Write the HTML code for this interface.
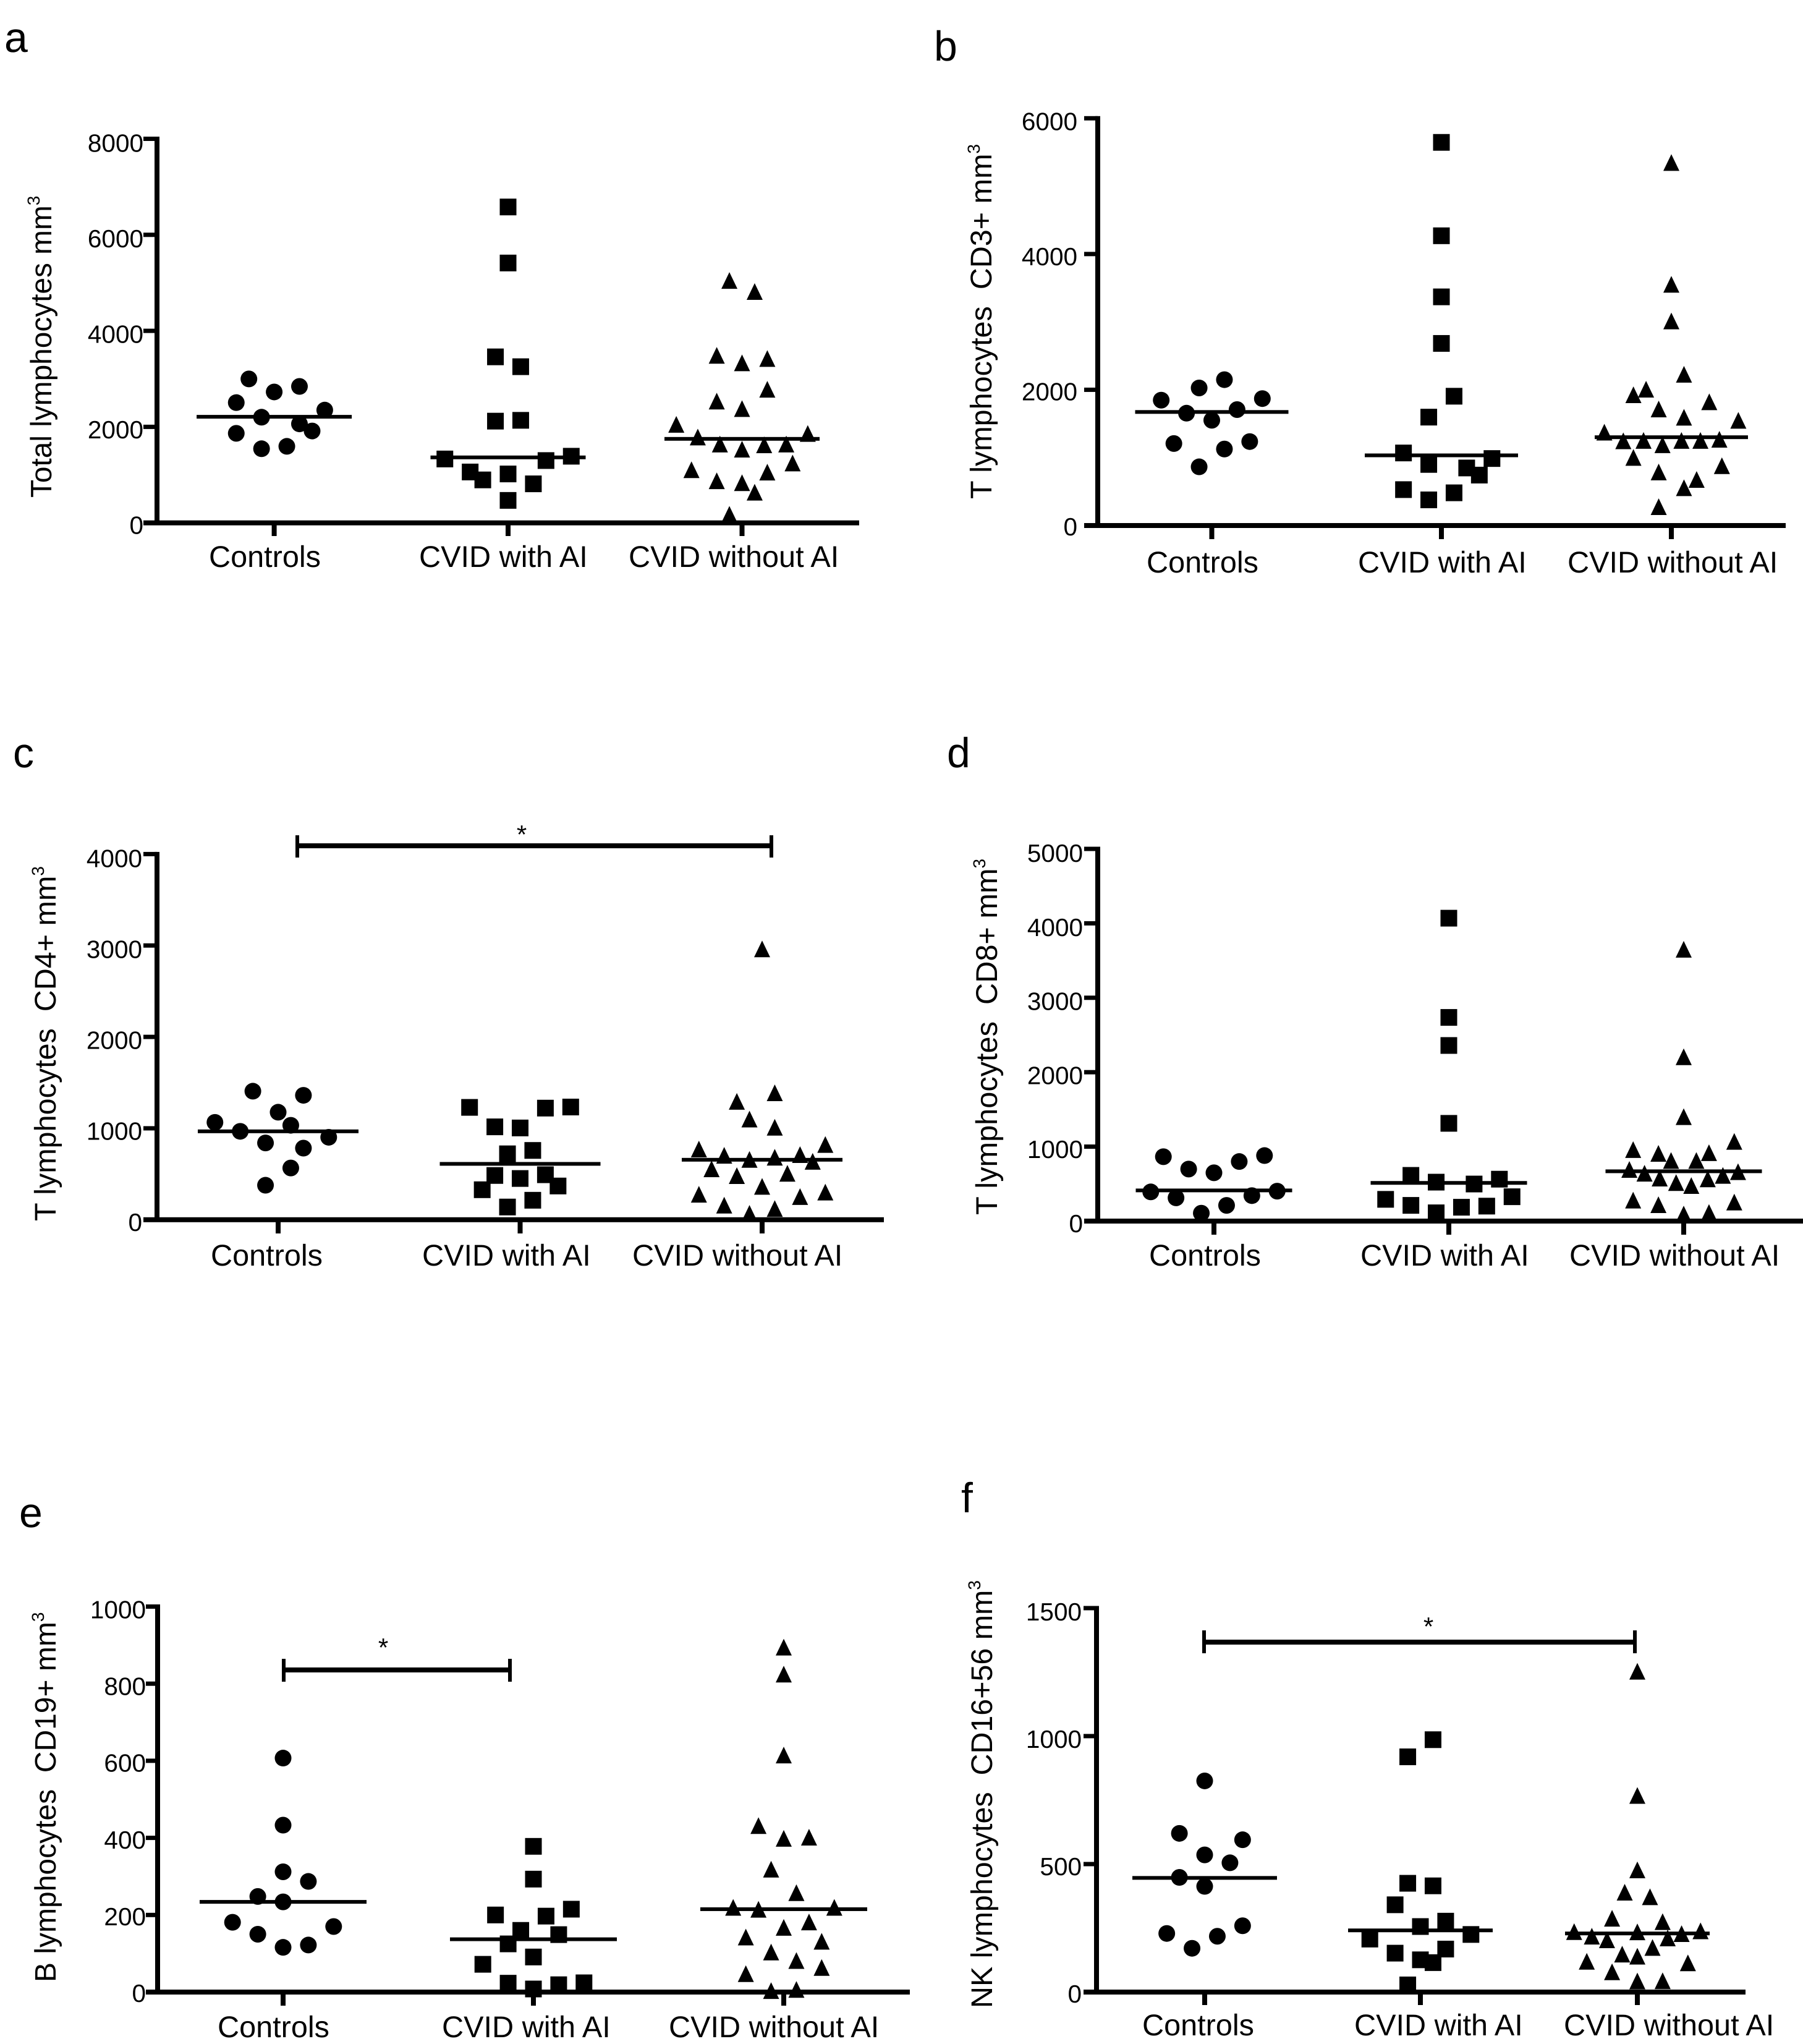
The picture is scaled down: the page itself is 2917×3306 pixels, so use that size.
<!DOCTYPE html>
<html lang="en">
<head>
<meta charset="utf-8">
<title>Lymphocyte subsets in controls and CVID patients</title>
<style>
html,body{margin:0;padding:0;background:#fff}
svg{display:block}
text{font-family:"Liberation Sans",Arial,sans-serif;fill:#000;white-space:pre;text-rendering:geometricPrecision}
</style>
</head>
<body>
<svg id="figure" xmlns="http://www.w3.org/2000/svg" width="2917" height="3306" viewBox="0 0 2917 3306">
<rect width="2917" height="3306" fill="#fff"/>
</svg>
<script>
const categories = ['Controls', 'CVID with AI', 'CVID without AI'];

/* Panel a: total lymphocytes */
const aTicks = [0, 2000, 4000, 6000, 8000];
const aMedians = [2210, 1364, 1750];
const aControls = [2998, 2842, 2727, 2505, 2349, 2201, 2062, 1914, 1865, 1594, 1544];
const aControlsSwarm = [-2, 2, 0, -3, 4, -1, 2, 3, -3, 1, -1];
const aWithAI = [6580, 5413, 3458, 3253, 2119, 2136, 1331, 1388, 1298, 1060, 1019, 895, 813, 468];
const aWithAISwarm = [0, 0, -1, 1, -1, 1, -5, 5, 3, -3, 0, -2, 2, 0];
const aWithoutAI = [5043, 4813, 3483, 3327, 3417, 2776, 2530, 2374, 2045, 1782, 1856, 1635, 1528, 1618, 1635, 1240, 1101, 1051, 871, 830, 632, 172];
const aWithoutAISwarm = [-1, 1, -2, 0, 2, 2, -2, 0, -5.2, -3.5, 5.2, -1.75, 0, 1.75, 3.5, 4, -4, 2, -2, 0, 1, -1];

/* Panel b: CD3+ */
const bTicks = [0, 2000, 4000, 6000];
const bMedians = [1673, 1034, 1301];
const bControls = [2149, 2027, 1847, 1870, 1655, 1708, 1551, 1208, 1237, 1127, 865];
const bControlsSwarm = [1, -1, -4, 4, -2, 2, 0, -3, 3, 1, -1];
const bWithAI = [5645, 4269, 3369, 2683, 1905, 1597, 1069, 987, 900, 848, 743, 529, 482, 378];
const bWithAISwarm = [0, 0, 0, 0, 1, -1, -3, 4, -1, 2, 3, -3, 1, -1];
const bWithoutAI = [5343, 3549, 3009, 2224, 2004, 1922, 1818, 1713, 1591, 1545, 1371, 1243, 1249, 1185, 1249, 1249, 1266, 999, 877, 784, 674, 552, 273];
const bWithoutAISwarm = [0, 0, 0, 1, -2, -3, 3, -1, 1, 5.3, -5.3, -3.8, -2.2, -0.7, 0.8, 2.3, 3.8, -3, 4, -1, 2, 1, -1];

/* Panel c: CD4+ */
const cTicks = [0, 1000, 2000, 3000, 4000];
const cMedians = [967, 611, 656];
const cControls = [1406, 1361, 1176, 1065, 1033, 967, 902, 840, 783, 566, 377];
const cControlsSwarm = [-2, 2, 0, -5, 1, -3, 4, -1, 2, 1, -1];
const cWithAI = [1229, 1221, 1233, 1016, 1004, 758, 721, 484, 492, 451, 369, 328, 213, 139];
const cWithAISwarm = [-4, 2, 4, -2, 0, 1, -1, -2, 2, 0, 3, -3, 1, -1];
const cWithoutAI = [2959, 1385, 1291, 1098, 1008, 820, 770, 701, 709, 680, 656, 635, 553, 504, 479, 361, 299, 275, 250, 156, 119, 66];
const cWithoutAISwarm = [0, 1, -2, -1, 1, 5, -5, -3, 3, 1, -1, 4, -4, 2, -2, 0, 5, -5, 3, -3, 1, -1];

/* Panel d: CD8+ */
const dTicks = [0, 1000, 2000, 3000, 4000, 5000];
const dMedians = [412, 513, 669];
const dControls = [865, 880, 800, 699, 649, 392, 402, 342, 312, 211, 106];
const dControlsSwarm = [-4, 4, 2, -2, 0, -5, 5, 3, -3, 1, -1];
const dWithAI = [4069, 2736, 2359, 1313, 614, 523, 563, 498, 327, 292, 211, 201, 186, 111];
const dWithAISwarm = [0, 0, 0, 0, -3, -1, 4, 2, 5, -5, -3, 3, 1, -1];
const dWithoutAI = [3647, 2203, 1398, 1066, 956, 905, 915, 810, 810, 689, 659, 639, 609, 573, 563, 513, 473, 277, 251, 216, 111, 90];
const dWithoutAISwarm = [0, 0, 0, 4, -4, -2, 2, -1, 1, -4.3, 4.3, -3.1, 3.1, -1.9, 1.9, -0.6, 0.6, -4, 4, -2, 2, 0];

/* Panel e: CD19+ */
const eTicks = [0, 200, 400, 600, 800, 1000];
const eMedians = [234, 137, 215];
const eControls = [607, 433, 312, 287, 248, 234, 181, 170, 150, 122, 116];
const eControlsSwarm = [0, 0, 0, 2, -2, 0, -4, 4, -2, 2, 0];
const eWithAI = [378, 293, 215, 200, 197, 160, 149, 125, 91, 72, 24, 23, 19, 8];
const eWithAISwarm = [0, 0, 3, -3, 1, -1, 2, -2, 0, -4, 4, -2, 2, 0];
const eWithoutAI = [894, 824, 614, 431, 401, 398, 318, 257, 219, 214, 219, 181, 167, 142, 131, 103, 81, 63, 47, 3, 6];
const eWithoutAISwarm = [0, 0, 0, -2, 2, 0, -1, 1, -4, -2, 4, 2, 0, -3, 3, -1, 1, 3, -3, -1, 1];

/* Panel f: CD16+56 */
const fTicks = [0, 500, 1000, 1500];
const fMedians = [446, 241, 229];
const fControls = [825, 620, 595, 536, 505, 448, 413, 259, 229, 218, 171];
const fControlsSwarm = [0, -2, 3, 0, 2, -2, 0, 3, -3, 1, -1];
const fWithAI = [986, 919, 425, 415, 341, 277, 256, 225, 207, 168, 152, 126, 115, 28];
const fWithAISwarm = [1, -1, -1, 1, -2, 2, 0, 4, -4, 2, -2, 0, 1, -1];
const fWithoutAI = [1252, 767, 476, 389, 371, 287, 274, 235, 238, 234, 227, 217, 203, 210, 173, 147, 139, 119, 113, 78, 42, 43];
const fWithoutAISwarm = [0, 0, 0, -1, 1, -2, 2, -5, 5, 0, 3.5, -3.6, -2.4, 2.4, 1.2, -1.2, 0, -4, 4, -2, 0, 2];

const panels = [
  {id:'a', letter:{x:7,y:84}, axisX:254, top:224.5, zero:845.7, right:1390, tickLeft:232, labelRight:232, tickDy:18, catTicks:[443.6,822,1200.5], catLabels:[337,677,1016], catBottom:867, catBase:917, halfLine:125.5,
   title:'Total lymphocytes mm', titleX:83, titleY:805, titleSize:47.8, ticks:aTicks, medians:aMedians,
   groups:[[aControls,aControlsSwarm],[aWithAI,aWithAISwarm],[aWithoutAI,aWithoutAISwarm]]},
  {id:'b', letter:{x:1511,y:98}, axisX:1776, top:191.3, zero:850, right:2889, tickLeft:1754, labelRight:1743, tickDy:16, catTicks:[1960.5,2332,2704], catLabels:[1854,2196,2535], catBottom:872, catBase:926, halfLine:124,
   title:'T lymphocytes  CD3+ mm', titleX:1604, titleY:807, titleSize:48.5, ticks:bTicks, medians:bMedians,
   groups:[[bControls,bControlsSwarm],[bWithAI,bWithAISwarm],[bWithoutAI,bWithoutAISwarm]]},
  {id:'c', letter:{x:21,y:1241}, axisX:254, top:1381.4, zero:1972.8, right:1430, tickLeft:232, labelRight:230, tickDy:18, catTicks:[450,841.5,1233], catLabels:[340,682,1022], catBottom:1995, catBase:2047, halfLine:130,
   title:'T lymphocytes  CD4+ mm', titleX:90, titleY:1975, titleSize:48.5, ticks:cTicks, medians:cMedians,
   bracket:{x1:481,x2:1248,y:1368,capTop:1351,capBottom:1387,starX:844,starBase:1364},
   groups:[[cControls,cControlsSwarm],[cWithAI,cWithAISwarm],[cWithoutAI,cWithoutAISwarm]]},
  {id:'d', letter:{x:1532,y:1241}, axisX:1776, top:1373, zero:1975, right:2917, tickLeft:1754, labelRight:1752, tickDy:18, catTicks:[1964,2344,2724], catLabels:[1858,2200,2538], catBottom:1997, catBase:2047, halfLine:126.5,
   title:'T lymphocytes  CD8+ mm', titleX:1613, titleY:1965, titleSize:48.7, ticks:dTicks, medians:dMedians,
   groups:[[dControls,dControlsSwarm],[dWithAI,dWithAISwarm],[dWithoutAI,dWithoutAISwarm]]},
  {id:'e', letter:{x:31,y:2470}, axisX:255, top:2598.5, zero:3222, right:1472, tickLeft:236, labelRight:236, tickDy:16, catTicks:[458,863,1268], catLabels:[351,714,1081], catBottom:3244, catBase:3295, halfLine:135,
   title:'B lymphocytes  CD19+ mm', titleX:90, titleY:3206, titleSize:48, ticks:eTicks, medians:eMedians,
   bracket:{x1:459,x2:825,y:2701,capTop:2683,capBottom:2720,starX:620,starBase:2679},
   groups:[[eControls,eControlsSwarm],[eWithAI,eWithAISwarm],[eWithoutAI,eWithoutAISwarm]]},
  {id:'f', letter:{x:1555,y:2446}, axisX:1774, top:2601, zero:3222, right:2824, tickLeft:1753, labelRight:1750, tickDy:17, catTicks:[1949,2298,2649], catLabels:[1847,2190,2529], catBottom:3243, catBase:3292, halfLine:117,
   title:'NK lymphocytes  CD16+56 mm', titleX:1605, titleY:3248, titleSize:48.4, ticks:fTicks, medians:fMedians,
   bracket:{x1:1948,x2:2645,y:2656,capTop:2637,capBottom:2674,starX:2311,starBase:2645},
   groups:[[fControls,fControlsSwarm],[fWithAI,fWithAISwarm],[fWithoutAI,fWithoutAISwarm]]}
];

const SVGNS = 'http://www.w3.org/2000/svg';
const SWARM_STEP = 20.45;
const root = document.getElementById('figure');

function make(parent, tag, attrs, text) {
  const el = document.createElementNS(SVGNS, tag);
  for (const k in attrs) el.setAttribute(k, attrs[k]);
  if (text !== undefined) el.textContent = text;
  parent.appendChild(el);
  return el;
}

function drawPanel(p) {
  const g = make(root, 'g', {});
  
  

  const maxValue = p.ticks[p.ticks.length - 1];
  const yScale = v => p.zero - (v / maxValue) * (p.zero - p.top);
  const xScale = (cat, slot) => p.catTicks[cat] + slot * SWARM_STEP;

  const letter = make(g, 'text', {x: p.letter.x, y: p.letter.y, 'font-size': 68}, p.id);
  
  

  const title = make(g, 'text', {
    x: p.titleX, y: p.titleY, 'font-size': p.titleSize,
    transform: 'rotate(-90 ' + p.titleX + ' ' + p.titleY + ')'
  }, p.title);
  make(title, 'tspan', {'font-size': 28, dy: -19}, '3');
  
  

  const yAxis = make(g, 'rect', {x: p.axisX - 4, y: yScale(maxValue) - 3.5, width: 8, height: p.zero - yScale(maxValue) + 3.5, fill: '#000'});
  
  

  const xAxis = make(g, 'rect', {x: p.tickLeft, y: p.zero - 4, width: p.right - p.tickLeft, height: 8, fill: '#000'});
  
  

  p.ticks.forEach(v => {
    const y = yScale(v);
    const mark = make(g, 'rect', {x: p.tickLeft, y: y - 3.5, width: p.axisX - p.tickLeft, height: 7, fill: '#000'});
    
    
    const label = make(g, 'text', {x: p.labelRight, y: y + p.tickDy + 3 * (v / maxValue), 'font-size': 40.5, 'text-anchor': 'end'}, String(v));
    
    
  });

  categories.forEach((name, i) => {
    const mark = make(g, 'rect', {x: p.catTicks[i] - 4, y: p.zero, width: 8, height: p.catBottom - p.zero, fill: '#000'});
    
    
    const label = make(g, 'text', {x: p.catLabels[i] + 1, y: p.catBase, 'font-size': 48.6}, name);
    
    
  });

  if (p.bracket) {
    const b = p.bracket;
    const bar = make(g, 'rect', {x: b.x1, y: b.y - 4, width: b.x2 - b.x1, height: 8, fill: '#000'});
    
    
    [b.x1, b.x2].forEach(x => {
      const cap = make(g, 'rect', {x: x - 3, y: b.capTop, width: 6, height: b.capBottom - b.capTop, fill: '#000'});
      
      
    });
    const star = make(g, 'text', {x: b.starX, y: b.starBase, 'font-size': 42, 'text-anchor': 'middle'}, '*');
    
    
  }

  p.groups.forEach((group, cat) => {
    const values = group[0];
    const swarm = group[1];
    values.forEach((v, i) => {
      const cx = xScale(cat, swarm[i]);
      const cy = yScale(v);
      let pt;
      if (cat === 0) {
        pt = make(g, 'circle', {cx: cx, cy: cy, r: 13.5, fill: '#000'});
      } else if (cat === 1) {
        pt = make(g, 'rect', {x: cx - 13.5, y: cy - 13.5, width: 27, height: 27, fill: '#000'});
      } else {
        pt = make(g, 'polygon', {points: cx + ',' + (cy - 14) + ' ' + (cx + 13) + ',' + (cy + 13) + ' ' + (cx - 13) + ',' + (cy + 13), fill: '#000'});
      }
      
      
    });
    const my = yScale(p.medians[cat]);
    const median = make(g, 'rect', {x: p.catTicks[cat] - p.halfLine, y: my - 3, width: p.halfLine * 2, height: 6, fill: '#000'});
    
    
  });
}

panels.forEach(drawPanel);
</script>
</body>
</html>
